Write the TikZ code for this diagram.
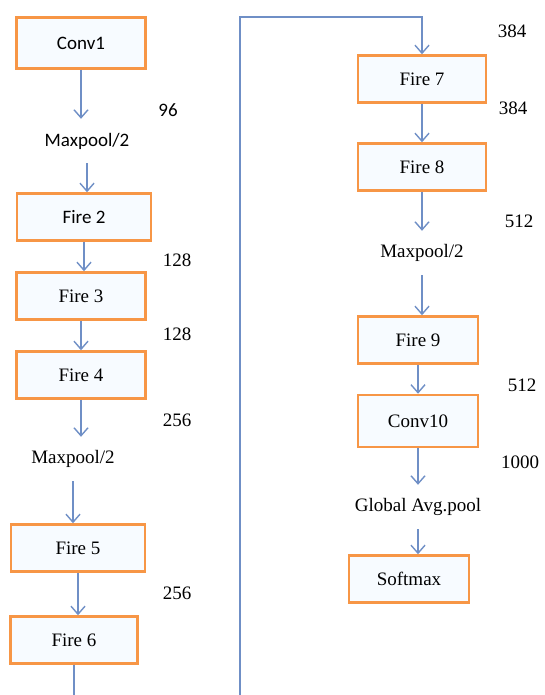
\documentclass[tikz,border=0pt]{standalone}
\usepackage{fontspec}
\setmainfont{Liberation Serif}
\newfontfamily\timesfont{Liberation Serif}
\newfontfamily\calfont{Carlito}
\usetikzlibrary{arrows.meta}
\definecolor{boxline}{HTML}{F79646}
\definecolor{boxfill}{HTML}{F7FBFF}
\definecolor{flowline}{HTML}{6F8FC6}

\begin{document}
\begin{tikzpicture}[x=1pt,y=-1pt,>={Straight Barb[length=8pt,width=14pt]},
                    node distance=80pt,
                    font=\timesfont\fontsize{19}{22}\selectfont]
  \tikzset{block/.style={draw=boxline,line width=2.5pt,fill=boxfill,
                         minimum width=129pt,minimum height=47pt},
           pool/.style={minimum height=44pt,inner sep=2pt},
           size/.style={inner sep=1pt},
           flow/.style={->,draw=flowline,line width=1.4pt}}

  \useasboundingbox (0,0) rectangle (544,695);

  % left column
  \node[block,minimum height=51pt] (c1) at (81,43) {\calfont Conv1};
  \node[pool]  (mp1) [below of=c1,node distance=98pt,xshift=6pt]  {\calfont Maxpool/2};
  \node[block,minimum width=134pt] (f2) [below of=mp1,node distance=76pt,xshift=-3pt] {\calfont Fire 2};
  \node[block] (f3)  [below of=f2,node distance=79pt,xshift=-3pt]  {Fire 3};
  \node[block] (f4)  [below of=f3,node distance=79pt]              {Fire 4};
  \node[pool]  (mp2) [below of=f4,node distance=84pt,xshift=-8pt]  {Maxpool/2};
  \node[block,minimum width=134pt] (f5) [below of=mp2,node distance=89pt,xshift=5pt] {Fire 5};
  \node[block,minimum width=127pt] (f6) [below of=f5,node distance=92pt,xshift=-4pt] {Fire 6};

  % right column
  \node[block,minimum width=128pt] (f7) at (422,79) {Fire 7};
  \node[block,minimum width=128pt] (f8) [below of=f7,node distance=88pt] {Fire 8};
  \node[pool]  (mp3) [below of=f8,node distance=86pt]              {Maxpool/2};
  \node[block,minimum width=120pt] (f9) [below of=mp3,node distance=87pt,xshift=-4pt] {Fire 9};
  \node[block,minimum width=120pt,minimum height=52pt] (c10) [below of=f9,node distance=81pt] {Conv10};
  \node[pool]  (gap) [below of=c10,node distance=86pt]             {Global Avg.pool};
  \node[block,minimum width=120pt] (sm) [below of=gap,node distance=72pt,xshift=-9pt] {Softmax};

  % channel sizes
  \node[size] (n96)  at (168,110) {\calfont 96};
  \node[size] (n128a) at (177,260) {128};
  \node[size] (n128b) at (177,334) {128};
  \node[size] (n256a) at (177,420) {256};
  \node[size] (n256b) at (177,593) {256};
  \node[size] (n384a) at (512,31)  {384};
  \node[size] (n384b) at (513,108) {384};
  \node[size] (n512a) at (519,221) {512};
  \node[size] (n512b) at (522,385) {512};
  \node[size] (n1000) at (520,462) {1000};

  \draw[flow] (c1.south)  -- (c1.south |- mp1.north);
  \draw[flow] (mp1.south) -- (mp1.south |- f2.north);
  \draw[flow] (f2.south)  -- (f2.south |- f3.north);
  \draw[flow] (f3.south)  -- (f3.south |- f4.north);
  \draw[flow] (f4.south)  -- (f4.south |- mp2.north);
  \draw[flow] (mp2.south) -- (mp2.south |- f5.north);
  \draw[flow] (f5.south)  -- (f5.south |- f6.north);

  \coordinate (low)  at (240,705);
  \coordinate (high) at (240,17);
  \draw[flow] (f6.south) |- (low) -- (high) -| (f7.north);

  \draw[flow] (f7.south)  -- (f7.south |- f8.north);
  \draw[flow] (f8.south)  -- (f8.south |- mp3.north);
  \draw[flow] (mp3.south) -- (mp3.south |- f9.north);
  \draw[flow] (f9.south)  -- (f9.south |- c10.north);
  \draw[flow] (c10.south) -- (c10.south |- gap.north);
  \draw[flow] (gap.south) -- (gap.south |- sm.north);
\end{tikzpicture}
\end{document}
